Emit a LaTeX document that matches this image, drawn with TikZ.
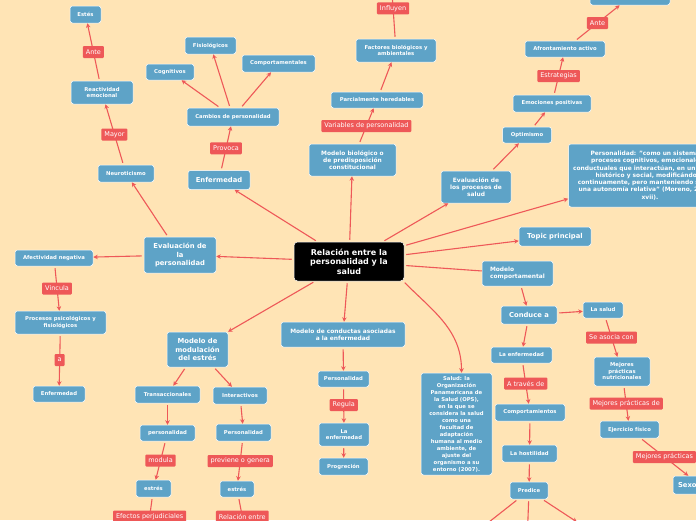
\documentclass[tikz,border=0pt]{standalone}
\usepackage{fontspec}
\setmainfont{DejaVu Sans}
\usetikzlibrary{arrows.meta}
\definecolor{bgpeach}{RGB}{255,228,181}
\definecolor{boxblue}{RGB}{94,163,199}
\definecolor{lblred}{RGB}{238,88,88}
\tikzset{sz/.style 2 args={minimum width=#1pt, minimum height=#2pt}}

\begin{document}
\begin{tikzpicture}[
  x=1pt, y=-1pt,
  >={Stealth[length=4.5pt,width=4.5pt]},
  box/.style={draw=white, line width=0.5pt, fill=boxblue, rounded corners=2.5pt,
              text=white, align=center, inner sep=1pt},
  smallbox/.style={box, font=\fontsize{5.3pt}{6.5pt}\selectfont\bfseries},
  midbox/.style={box, font=\fontsize{5.9pt}{7.3pt}\selectfont\bfseries},
  bigbox/.style={box, font=\fontsize{6.8pt}{8.3pt}\selectfont\bfseries},
  rootbox/.style={box, fill=black, rounded corners=3.5pt,
                  font=\fontsize{8pt}{9.5pt}\selectfont\bfseries},
  lbl/.style={fill=lblred, text=white, rounded corners=1pt, inner xsep=3pt,
              inner ysep=1pt, minimum height=12pt, font=\fontsize{6.5pt}{7pt}\selectfont},
  arr/.style={draw=lblred, line width=1.1pt, ->, shorten <=2pt},
  link/.style={draw=lblred, line width=1.1pt, shorten <=2pt},
]
  % Page and background
  \path[use as bounding box] (0,0) rectangle (696,520);
  \clip (0,0) rectangle (696,520);
  \fill[bgpeach] (0,0) rectangle (696,520);

  % Central topic
  \node[rootbox, sz={110}{39}] (ctr) at (349,261.5)
    {Relación entre la\\personalidad y la\\salud};

  % Upper left branch
  \node[bigbox, sz={72}{36}] (evalpers) at (180,255) {Evaluación de\\la\\personalidad};
  \node[smallbox, sz={56}{17}] (neuro) at (126,173.5) {Neuroticismo};
  \node[smallbox, sz={62}{23}] (reac) at (102,92.5) {Reactividad\\emocional};
  \node[smallbox, sz={31}{17}] (estes) at (85.5,14.5) {Estés};
  \node[bigbox, sz={62}{19}] (enfbig) at (219,180) {Enfermedad};
  \node[smallbox, sz={92}{18}] (cambios) at (233,117) {Cambios de personalidad};
  \node[smallbox, sz={48}{16}] (cogn) at (170,72) {Cognitivos};
  \node[smallbox, sz={51}{17}] (fisio) at (210.5,45.5) {Fisiológicos};
  \node[smallbox, sz={73}{17}] (comport) at (278.5,63.5) {Comportamentales};

  % Upper middle branch
  \node[midbox, sz={87}{32}] (modbio) at (352.5,160)
    {Modelo biológico o\\de predisposición\\constitucional};
  \node[smallbox, sz={92}{16}] (parcial) at (377,100) {Parcialmente heredables};
  \node[smallbox, sz={80}{23}] (factores) at (396,50.5) {Factores biológicos y\\ambientales};
  \coordinate (infTop) at (391,-22);

  % Upper right branch
  \node[midbox, sz={70}{32}] (evalproc) at (476,187) {Evaluación de\\los procesos de\\salud};
  \node[smallbox, sz={49}{16}] (optim) at (527,135) {Optimismo};
  \node[smallbox, sz={78}{17}] (emoc) at (552,103.5) {Emociones positivas};
  \node[smallbox, sz={80}{16}] (afront) at (565,49) {Afrontamiento activo};
  \node[smallbox, sz={80}{16}] (topbox) at (630,-3) {};
  \node[midbox, sz={163}{63}] (perso) at (650,175.5)
    {Personalidad: "como un sistema de\\procesos cognitivos, emocionales y\\
     conductuales que interactúan, en un contexto\\histórico y social, modificándose\\
     continuamente, pero manteniendo siempre\\una autonomía relativa" (Moreno, 2007, p.\\xvii).};
  \node[bigbox, sz={72}{19}] (topic) at (555,236.5) {Topic principal};

  % Lower right branch
  \node[midbox, sz={71}{25}, align=left] (modcomp) at (517.5,273.5) {Modelo\\comportamental};
  \node[bigbox, sz={56}{18}] (conduce) at (529,315) {Conduce a};
  \node[smallbox, sz={40}{16}] (lasalud) at (603,310) {La salud};
  \node[smallbox, sz={56}{29}] (mejores) at (622,371.5) {Mejores\\prácticas\\nutricionales};
  \node[smallbox, sz={59}{17}] (ejerc) at (629.5,429.5) {Ejercicio físico};
  \node[bigbox, sz={54}{18}, text width=44pt, align=left] (sexo) at (700,485) {Sexo};
  \node[smallbox, sz={61}{16}] (laenf2) at (521.5,355) {La enfermedad};
  \node[smallbox, sz={70}{17}] (comportam) at (530,412.5) {Comportamientos};
  \node[smallbox, sz={55}{17}] (hostil) at (529.5,453.5) {La hostilidad};
  \node[smallbox, sz={38}{17}] (predice) at (529,490.5) {Predice};
  \coordinate (prL) at (470,537);
  \coordinate (prM) at (527,545);
  \coordinate (prR) at (577,522);

  % Health definition
  \node[smallbox, sz={71}{102}, font=\fontsize{5.3pt}{7pt}\selectfont\bfseries] (salud) at (456.5,424)
    {Salud: la\\Organización\\Panamericana de\\la Salud (OPS),\\en la que se\\considera la salud\\
     como una\\facultad de\\adaptación\\humana al medio\\ambiente, de\\ajuste del\\
     organismo a su\\entorno (2007).};

  % Lower middle branch
  \node[midbox, sz={124}{25}] (modcond) at (343,334.5)
    {Modelo de conductas asociadas\\a la enfermedad};
  \node[smallbox, sz={51}{16}] (persC) at (343.5,379) {Personalidad};
  \node[smallbox, sz={50}{23}] (laenf) at (344,434.5) {La\\enfermedad};
  \node[smallbox, sz={49}{17}] (progr) at (343.5,466.5) {Progreción};

  % Lower left branch
  \node[bigbox, sz={61}{35}] (modmod) at (197.5,349.5) {Modelo de\\modulación\\del estrés};
  \node[smallbox, sz={65}{17}] (transacc) at (167.5,394.5) {Transaccionales};
  \node[smallbox, sz={54}{17}] (interact) at (240,395.5) {Interactivos};
  \node[smallbox, sz={55}{16}] (persA) at (167.5,433) {personalidad};
  \node[smallbox, sz={55}{17}] (persB) at (243.5,432.5) {Personalidad};
  \node[smallbox, sz={35}{17}] (estresA) at (153.5,488.5) {estrés};
  \node[smallbox, sz={34}{16}] (estresB) at (237,489) {estrés};
  \coordinate (efTop) at (147,536);
  \coordinate (relTop) at (246,536);

  % Far left branch
  \node[smallbox, sz={78}{16}] (afect) at (54,258) {Afectividad negativa};
  \node[smallbox, sz={91}{23}] (procesos) at (60.5,322.5) {Procesos psicológicos y\\fisiológicos};
  \node[smallbox, sz={52}{16}] (enfsmall) at (59,394) {Enfermedad};

  % Connectors from the centre
  \draw[arr] (ctr) -- (evalpers);
  \draw[arr] (ctr) -- (enfbig);
  \draw[arr] (ctr) -- (modbio);
  \draw[arr] (ctr) -- (evalproc);
  \draw[arr] (ctr) -- (perso);
  \draw[arr] (ctr) -- (topic);
  \draw[link] (ctr) -- (modcomp);
  \draw[arr] (ctr.-20) to[out=-45, in=90] ([xshift=5pt]salud.north);
  \draw[arr] (ctr) -- (modcond);
  \draw[arr] (ctr) -- (modmod);

  % Left side
  \draw[arr] (evalpers) -- (neuro);
  \draw[arr] (neuro) -- node[lbl] {Mayor} (reac);
  \draw[arr] (reac) -- node[lbl] {Ante} (estes);
  \draw[arr] (evalpers) -- (afect);
  \draw[arr] (afect) -- node[lbl] {Vincula} (procesos);
  \draw[arr] (procesos) -- node[lbl] {a} (enfsmall);
  \draw[arr] (enfbig) -- node[lbl] {Provoca} (cambios);
  \draw[arr] (cambios) -- (cogn);
  \draw[arr] (cambios) -- (fisio);
  \draw[arr] (cambios) -- (comport);

  % Top
  \draw[arr] (modbio) -- node[lbl] {Variables de personalidad} (parcial);
  \draw[arr] (parcial) -- (factores);
  \draw[arr] (factores) -- node[lbl] {Influyen} (infTop);
  \draw[arr] (evalproc) -- (optim);
  \draw[arr] (optim) -- (emoc);
  \draw[arr] (emoc) -- node[lbl] {Estrategias} (afront);
  \draw[arr] (afront) -- node[lbl] {Ante} (topbox);

  % Right side
  \draw[arr] (modcomp) -- (conduce);
  \draw[arr] (conduce) -- (lasalud);
  \draw[arr] (lasalud) -- node[lbl] {Se asocia con} (mejores);
  \draw[arr] (mejores) -- node[lbl] {Mejores prácticas de} (ejerc);
  \draw[arr] (ejerc) -- node[lbl] {Mejores prácticas} (sexo);
  \draw[arr] (conduce) -- (laenf2);
  \draw[arr] (laenf2) -- node[lbl] {A través de} (comportam);
  \draw[arr] (comportam) -- (hostil);
  \draw[arr] (hostil) -- (predice);
  \draw[arr] (predice) -- (prL);
  \draw[arr] (predice) -- (prM);
  \draw[arr] (predice) -- (prR);

  % Bottom
  \draw[arr] (modcond) -- (persC);
  \draw[arr] (persC) -- node[lbl] {Regula} (laenf);
  \draw[arr] (laenf) -- (progr);
  \draw[arr] (modmod) -- (transacc);
  \draw[arr] (modmod) -- (interact);
  \draw[arr] (transacc) -- (persA);
  \draw[arr] (interact) -- (persB);
  \draw[arr] (persA) -- node[lbl] {modula} (estresA);
  \draw[arr] (persB) -- node[lbl] {previene o genera} (estresB);
  \draw[arr] (estresA) -- node[lbl] {Efectos perjudiciales} (efTop);
  \draw[arr] (estresB) -- node[lbl] {Relación entre} (relTop);
\end{tikzpicture}
\end{document}
